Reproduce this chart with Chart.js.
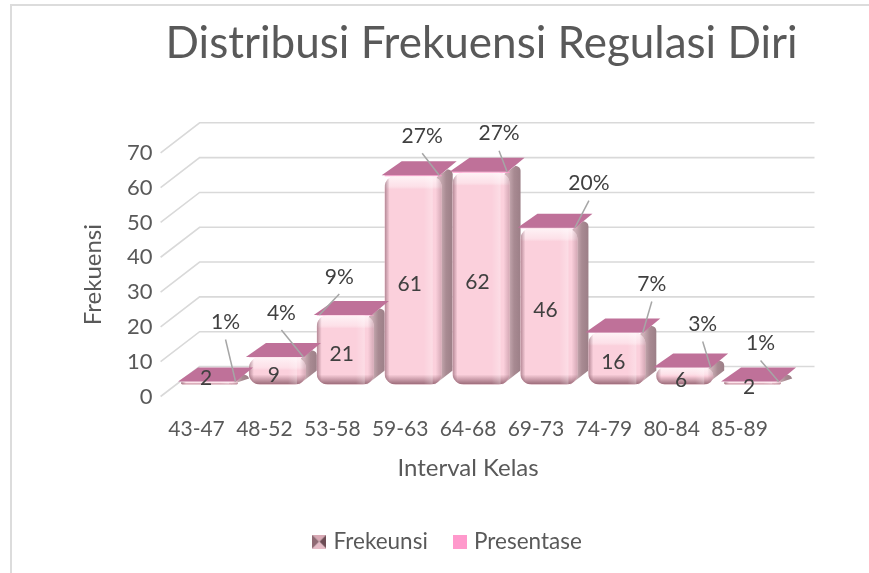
<!DOCTYPE html>
<html><head><meta charset="utf-8">
<style>html,body{margin:0;padding:0;background:#fff}#w{position:relative;width:869px;height:573px}canvas{display:block}</style>
<script src="https://cdn.jsdelivr.net/npm/chart.js@4"></script>
</head><body><div id="w"><canvas id="c" width="869" height="573"></canvas></div>
<script>
const categories = ['43-47','48-52','53-58','59-63','64-68','69-73','74-79','80-84','85-89'];
const frekuensi = [2,9,21,61,62,46,16,6,2];
const presentase = [0.01,0.04,0.09,0.27,0.27,0.20,0.07,0.03,0.01];
const seriesNames = ['Frekeunsi','Presentase'];
const titleText = 'Distribusi Frekuensi Regulasi Diri';
const yTitle = 'Frekuensi';
const xTitle = 'Interval Kelas';

const FONT = 'Lato, "Open Sans", sans-serif';
const DEPTH = {bx:39, by:-30, dx:13, dy:-8};
// where each hand-placed percent label sits relative to its bar's top
const pctOffset = [[16,-59],[4,-44],[-6,-38],[9,-39],[18,-38],[40,-44],[35,-48],[18,-43],[8,-38]];
const leaderSide = [1,1,-1,1,1,1,1,1,1];
const valueNudge = [-9,0,0,0,0,0,0,0,0];

function icon1(){const c=document.createElement('canvas');c.width=c.height=14;const x=c.getContext('2d');
  const t=(pts,col)=>{x.fillStyle=col;x.beginPath();pts.forEach((p,i)=>i?x.lineTo(p[0],p[1]):x.moveTo(p[0],p[1]));x.closePath();x.fill();};
  t([[0,0],[14,0],[7,7]],'#d9a9b5');t([[0,0],[7,7],[0,14]],'#8f6a74');t([[14,0],[14,14],[7,7]],'#6d4c55');t([[0,14],[14,14],[7,7]],'#e6bcc7');return c;}
function icon2(){const c=document.createElement('canvas');c.width=c.height=14;const x=c.getContext('2d');x.fillStyle='#ff99cc';x.fillRect(0,0,14,14);return c;}
const icons=[icon1(),icon2()];

function rr(ctx,l,t,w,h,r){r=Math.min(r,w/2,h/2);ctx.beginPath();ctx.roundRect(l,t,w,h,r);}

const look3d = {
  id:'look3d',
  afterLayout(chart){ const lg=chart.legend; lg.left-=19; lg.right-=19; const tb=chart.titleBlock; tb.left+=3; tb.right+=80; },
  beforeDraw(chart){
    const ctx=chart.ctx; ctx.save(); ctx.strokeStyle='#dcdcdc'; ctx.lineWidth=2;
    ctx.strokeRect(11,5,880,600); ctx.restore();
  },
  beforeDatasetsDraw(chart){
    const ctx=chart.ctx,y=chart.scales.y,a=chart.chartArea;
    ctx.save(); ctx.strokeStyle='#d9d9d9'; ctx.lineWidth=1.6;
    y.ticks.forEach(t=>{const p=y.getPixelForValue(t.value);ctx.beginPath();
      ctx.moveTo(a.left-2,p);ctx.lineTo(a.left-2+DEPTH.bx,p+DEPTH.by);ctx.lineTo(a.right+DEPTH.bx+2,p+DEPTH.by);ctx.stroke();});
    ctx.restore();
    ctx.save(); ctx.translate(DEPTH.dx,DEPTH.dy);
    chart.getDatasetMeta(0).data.forEach(b=>{
      const R=b.x+b.width/2,T=b.y,B=b.base;
      const g=ctx.createLinearGradient(R-2,0,R+11,0);g.addColorStop(0,'#cdb0b7');g.addColorStop(0.5,'#a88a92');g.addColorStop(1,'#9c7f87');
      ctx.fillStyle=g;ctx.beginPath();ctx.moveTo(R-5,T+1);ctx.lineTo(R+6,T-7);
      ctx.quadraticCurveTo(R+11,T-6,R+11,T-2);ctx.lineTo(R+11,Math.max(B-14,T-3));ctx.lineTo(R-7,B);ctx.closePath();ctx.fill();
    });
  },
  afterDatasetsDraw(chart){
    const ctx=chart.ctx,m0=chart.getDatasetMeta(0),m1=chart.getDatasetMeta(1);
    m0.data.forEach(b=>{
      const L=b.x-b.width/2,W=b.width,T=b.y,H=b.base-b.y;
      ctx.save();rr(ctx,L,T,W,H,11);ctx.clip();
      const e=Math.min(13,H/2);
      let g=ctx.createLinearGradient(0,T,0,T+e);g.addColorStop(0,'rgba(255,255,255,.75)');g.addColorStop(.75,'rgba(255,240,244,.55)');g.addColorStop(1,'rgba(255,255,255,0)');
      ctx.fillStyle=g;ctx.fillRect(L,T,W,e);
      g=ctx.createLinearGradient(0,T+H-Math.min(10,H/2),0,T+H);g.addColorStop(0,'rgba(120,70,85,0)');g.addColorStop(1,'rgba(120,70,85,.75)');
      ctx.fillStyle=g;ctx.fillRect(L,T+H-Math.min(10,H/2),W,Math.min(10,H/2));
      g=ctx.createLinearGradient(L,0,L+5,0);g.addColorStop(0,'rgba(130,85,100,.6)');g.addColorStop(1,'rgba(130,85,100,0)');
      ctx.fillStyle=g;ctx.fillRect(L,T,5,H);
      g=ctx.createLinearGradient(L+W-18,0,L+W-9,0);g.addColorStop(0,'rgba(255,255,255,0)');g.addColorStop(1,'rgba(255,255,255,.28)');
      ctx.fillStyle=g;ctx.fillRect(L+W-18,T,9,H);
      g=ctx.createLinearGradient(L+W-6,0,L+W,0);g.addColorStop(0,'rgba(140,95,110,0)');g.addColorStop(1,'rgba(140,95,110,.35)');
      ctx.fillStyle=g;ctx.fillRect(L+W-6,T,6,H);
      ctx.restore();
    });
    m1.data.forEach(b=>{
      const L=b.x-b.width/2,R=b.x+b.width/2,T=b.y;
      ctx.fillStyle='#bf7199';ctx.beginPath();ctx.moveTo(L-3,T);ctx.lineTo(R-2,T);ctx.lineTo(R+15,T-14);ctx.lineTo(L+17,T-14);ctx.closePath();ctx.fill();
    });
    ctx.restore();
    // labels, in page coordinates
    ctx.save();ctx.font='21px '+FONT;ctx.textAlign='center';ctx.textBaseline='middle';
    m1.data.forEach((b,i)=>{
      const ax=b.x+DEPTH.dx,ay=b.y+DEPTH.dy,o=pctOffset[i],lx=ax+o[0],ly=ay+o[1];
      ctx.strokeStyle='#a6a6a6';ctx.lineWidth=1.5;ctx.beginPath();ctx.moveTo(lx,ly+17);ctx.lineTo(ax+26*leaderSide[i],ay);ctx.stroke();
      ctx.fillStyle='#404040';ctx.fillText(Math.round(presentase[i]*100)+'%',lx,ly);
    });
    m0.data.forEach((b,i)=>{
      ctx.fillStyle='#404040';
      ctx.fillText(String(frekuensi[i]),b.x+DEPTH.dx-3.5,(b.y+b.base)/2+DEPTH.dy+4+valueNudge[i]);
    });
    ctx.restore();
  }
};

const R11={topLeft:11,topRight:11,bottomLeft:11,bottomRight:11};
new Chart(document.getElementById('c'),{
  type:'bar',
  data:{labels:categories,datasets:[
    {label:seriesNames[0],data:frekuensi,base:1.15,backgroundColor:'#fbd0dc',borderRadius:R11,borderSkipped:false,inflateAmount:0,stack:'s'},
    {label:seriesNames[1],data:presentase,backgroundColor:'#ff99cc',inflateAmount:0,stack:'s'}
  ]},
  plugins:[look3d],
  options:{
    responsive:false,animation:false,
    barPercentage:0.84,categoryPercentage:1,
    layout:{padding:{left:0,right:95.5,top:0,bottom:10}},
    plugins:{
      tooltip:{enabled:false},
      title:{display:true,text:titleText,align:'start',fullSize:false,color:'#595959',
        font:{family:FONT,size:44,weight:'normal'},padding:{top:17,bottom:83}},
      legend:{display:true,position:'bottom',fullSize:false,
        labels:{color:'#595959',font:{family:FONT,size:22.5},usePointStyle:true,boxWidth:6,boxHeight:8,padding:29,
          generateLabels:()=>seriesNames.map((n,i)=>({text:n,pointStyle:icons[i],fontColor:'#595959',lineWidth:0,strokeStyle:'transparent',fillStyle:'transparent',datasetIndex:i}))}}
    },
    scales:{
      x:{stacked:true,grid:{display:false,drawTicks:false},border:{display:false},
        ticks:{color:'#595959',font:{family:FONT,size:21},padding:20,maxRotation:0,autoSkip:false},
        title:{display:true,text:xTitle,color:'#595959',font:{family:FONT,size:24},padding:{top:0,bottom:19}},
        afterFit(s){s.height=105;}},
      y:{stacked:true,min:0,max:70,grid:{display:false,drawTicks:false},border:{display:false},
        ticks:{stepSize:10,color:'#595959',font:{family:FONT,size:22},padding:10},
        title:{display:true,text:yTitle,color:'#595959',font:{family:FONT,size:24},padding:{top:79,bottom:0}},
        afterFit(s){s.width=162.6;}}
    }
  }
});
</script></body></html>
